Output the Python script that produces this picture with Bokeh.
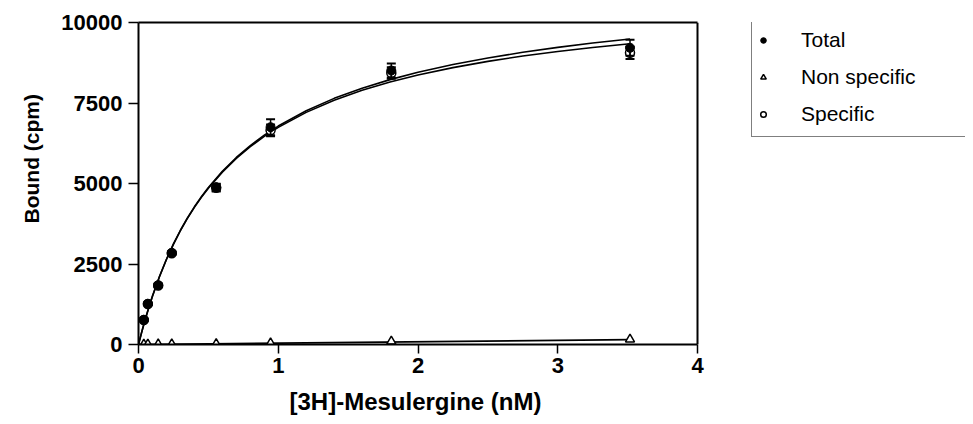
from bokeh.plotting import figure
from bokeh.models import (Range1d, FixedTicker, Legend, LegendItem, Whisker,
                          ColumnDataSource, Title, TeeHead, LinearAxis, Span)
from bokeh.embed import file_html
from bokeh.resources import INLINE

# ---- data ----
conc = [0.038, 0.067, 0.141, 0.238, 0.556, 0.945, 1.809, 3.517]
total = [767, 1264, 1842, 2848, 4885, 6748, 8509, 9214]
total_err = [40, 40, 50, 50, 110, 250, 220, 250]
nonspecific = [5, 8, 10, 15, 20, 45, 100, 160]
specific = [762, 1256, 1832, 2833, 4865, 6650, 8430, 9060]
specific_err = [40, 40, 50, 50, 110, 180, 180, 190]

fit_x = [0, 0.02, 0.03, 0.05, 0.075, 0.1, 0.15, 0.2, 0.25, 0.3, 0.35, 0.4,
         0.45, 0.5, 0.6, 0.7, 0.8, 0.9, 1.0, 1.2, 1.4, 1.6, 1.8, 2.0, 2.25,
         2.5, 2.75, 3.0, 3.25, 3.517]
fit_total = [0, 337, 498, 806, 1166, 1503, 2111, 2647, 3123, 3548, 3930,
             4276, 4589, 4876, 5379, 5808, 6179, 6501, 6784, 7259, 7644,
             7960, 8226, 8453, 8694, 8898, 9074, 9227, 9362, 9490]
fit_specific = [0, 336, 497, 804, 1163, 1499, 2105, 2639, 3112, 3535, 3915,
                4259, 4570, 4855, 5354, 5779, 6145, 6463, 6742, 7209, 7585,
                7893, 8150, 8369, 8599, 8793, 8958, 9101, 9225, 9342]
ns_fit_x = [0, 3.517]
ns_fit_y = [0, 150]

x_ticks = [0, 1, 2, 3, 4]
y_ticks = [0, 2500, 5000, 7500, 10000]
x_axis_bounds = (0, 4)

series_labels = ["Total", "Non specific", "Specific"]
x_title = "[3H]-Mesulergine (nM)"
y_title = "Bound (cpm)"

FONT = "Liberation Sans"

# The frame spans to the right edge so the legend can sit beside the box;
# the visible box (axes 0..4) covers 559 px of the 827 px frame.
W, H = 965, 424
LEFT, TOP, BOTTOM = 138, 22, 80
box_px = 559
frame_px = W - LEFT
x_end = x_axis_bounds[1] * frame_px / box_px

p = figure(width=W, height=H, output_backend="svg", toolbar_location=None,
           x_range=Range1d(0, x_end), y_range=Range1d(0, 10000),
           min_border_left=LEFT, min_border_top=TOP, min_border_right=0,
           min_border_bottom=BOTTOM)
p.xgrid.visible = False
p.ygrid.visible = False
p.outline_line_color = None
p.background_fill_color = "white"
p.border_fill_color = "white"

for ax in (p.xaxis[0], p.yaxis[0]):
    ax.axis_line_width = 2
    ax.axis_line_color = "black"
    ax.major_tick_line_width = 1.5
    ax.major_tick_line_color = "black"
    ax.major_tick_in = 0
    ax.minor_tick_line_color = None
    ax.major_label_text_font = FONT
    ax.major_label_text_font_style = "bold"
    ax.major_label_text_font_size = "22px"
    ax.major_label_text_color = "black"

p.xaxis.bounds = x_axis_bounds
p.xaxis.ticker = FixedTicker(ticks=x_ticks)
p.yaxis.ticker = FixedTicker(ticks=y_ticks)
p.xaxis.major_tick_out = 9
p.yaxis.major_tick_out = 10
p.xaxis.major_label_standoff = 4
p.yaxis.major_label_standoff = 6

# x title, centred under the box (not under the wider frame)
xtitle = Title(text=x_title, align="left", offset=151, standoff=20,
               text_font=FONT, text_font_style="bold", text_font_size="24px",
               text_line_height=1.0, text_color="black")
p.add_layout(xtitle, "below")

# top edge of the box
top_axis = LinearAxis(bounds=x_axis_bounds, ticker=FixedTicker(ticks=[]),
                      axis_line_width=2, axis_line_color="black",
                      major_tick_line_color=None, minor_tick_line_color=None,
                      major_label_text_font_size="0px", major_tick_out=0,
                      major_tick_in=0, major_label_standoff=0)
p.add_layout(top_axis, "above")
# right edge of the box
p.add_layout(Span(location=x_axis_bounds[1], dimension="height",
                  line_color="black", line_width=2))

# y title in the left panel, bottom-aligned with an offset as in the reference
ytitle = Title(text=y_title, align="left", offset=121, standoff=32,
               text_font=FONT, text_font_style="bold", text_font_size="21px",
               text_color="black")
p.add_layout(ytitle, "left")

# fitted curves
p.line(fit_x, fit_total, line_color="black", line_width=1.6)
p.line(fit_x, fit_specific, line_color="black", line_width=1.6)
p.line(ns_fit_x, ns_fit_y, line_color="black", line_width=1.6)

# error bars
src_t = ColumnDataSource(dict(x=conc, upper=[v + e for v, e in zip(total, total_err)],
                              lower=[v - e for v, e in zip(total, total_err)]))
src_s = ColumnDataSource(dict(x=conc, upper=[v + e for v, e in zip(specific, specific_err)],
                              lower=[v - e for v, e in zip(specific, specific_err)]))
for src in (src_s, src_t):
    w = Whisker(base="x", upper="upper", lower="lower", source=src,
                line_color="black", line_width=1.5, level="glyph",
                upper_head=TeeHead(size=9, line_width=2, line_color="black"),
                lower_head=TeeHead(size=9, line_width=2, line_color="black"))
    p.add_layout(w)

r_spec = p.scatter(conc, specific, marker="circle", size=9, fill_color="white",
                   line_color="black", line_width=1.5)
r_ns = p.scatter(conc, nonspecific, marker="triangle", size=9, fill_color="white",
                 line_color="black", line_width=1.5)
r_tot = p.scatter(conc, total, marker="circle", size=9, fill_color="black",
                  line_color="black", line_width=1)

# legend box: top edge ~4 px above the frame, rows ~37 px apart
legend = Legend(items=[LegendItem(label=series_labels[0], renderers=[r_tot]),
                       LegendItem(label=series_labels[1], renderers=[r_ns]),
                       LegendItem(label=series_labels[2], renderers=[r_spec])],
                location=(613, 207), padding=4, spacing=0,
                glyph_width=14, glyph_height=14, label_height=37,
                label_width=200, label_standoff=31, margin=0,
                label_text_font=FONT, label_text_font_size="21px",
                label_text_color="black", label_text_baseline="middle",
                border_line_color="black", border_line_width=1.5,
                background_fill_color="white", background_fill_alpha=1)
p.add_layout(legend)

open("out.html", "w").write(file_html(p, INLINE))
